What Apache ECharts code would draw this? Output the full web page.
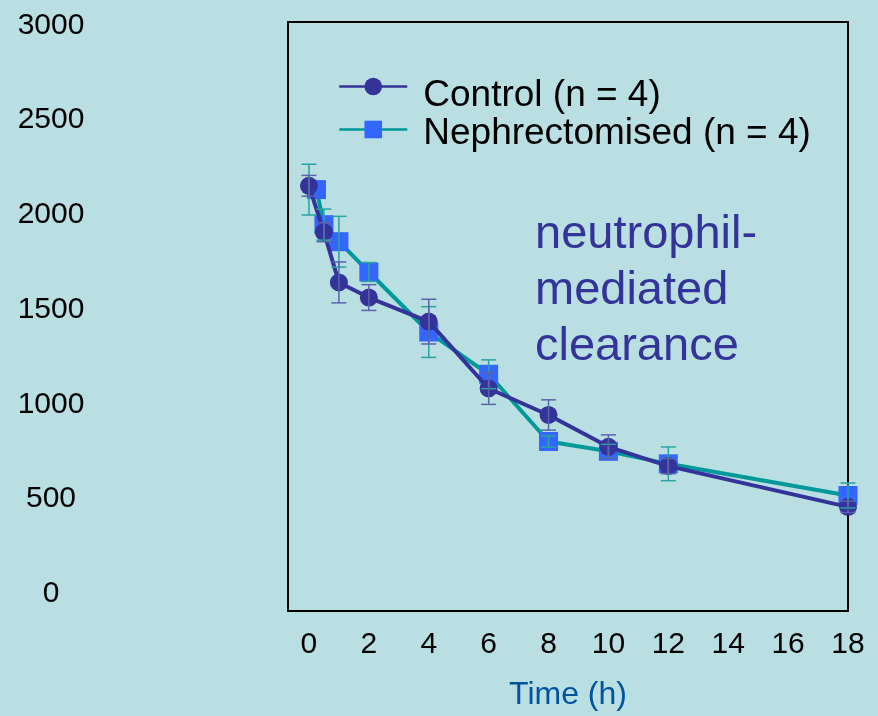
<!DOCTYPE html>
<html><head><meta charset="utf-8">
<script src="https://cdn.jsdelivr.net/npm/echarts@6/dist/echarts.min.js"></script>
<style>html,body{margin:0;padding:0;background:#b9dfe2}#c{width:878px;height:716px}</style>
</head><body><div id="c"></div>
<script>
const ctrlTime = [0, 0.5, 1, 2, 4, 6, 8, 10, 12, 18];
const ctrlMean = [2135, 1890, 1625, 1545, 1418, 1065, 925, 757, 655, 440];
const ctrlErr  = [55, 50, 108, 68, 118, 84, 80, 63, 40, 30];
const nephTime = [0.25, 0.5, 1, 2, 4, 6, 8, 10, 12, 18];
const nephMean = [2115, 1930, 1840, 1680, 1363, 1140, 785, 733, 667, 500];
const nephErr  = [134, 82, 134, 50, 134, 76, 30, 37, 89, 66];
const nephErrTime = [0, 0.5, 1, 2, 4, 6, 8, 10, 12, 18];
const yTicks = [0, 500, 1000, 1500, 2000, 2500, 3000];
const xTicks = [0, 2, 4, 6, 8, 10, 12, 14, 16, 18];

const FONT = 'Liberation Sans, Arial, sans-serif';
const ctrlData = ctrlTime.map((t, i) => [t, ctrlMean[i]]);
const nephData = nephTime.map((t, i) => [t, nephMean[i]]);
const ctrlErrData = ctrlTime.map((t, i) => [t, ctrlMean[i] - ctrlErr[i], ctrlMean[i] + ctrlErr[i]]);
const nephErrData = nephErrTime.map((t, i) => [t, nephMean[i] - nephErr[i], nephMean[i] + nephErr[i]]);

function errRender(color) {
  return function (params, api) {
    const x = api.value(0), lo = api.value(1), hi = api.value(2);
    const p1 = api.coord([x, hi]), p2 = api.coord([x, lo]);
    const w = 7.5;
    const st = { stroke: color, lineWidth: 1.5 };
    return { type: 'group', children: [
      { type: 'line', shape: { x1: p1[0], y1: p1[1], x2: p2[0], y2: p2[1] }, style: st },
      { type: 'line', shape: { x1: p1[0] - w, y1: p1[1], x2: p1[0] + w, y2: p1[1] }, style: st },
      { type: 'line', shape: { x1: p2[0] - w, y1: p2[1], x2: p2[0] + w, y2: p2[1] }, style: st }
    ]};
  };
}

function legendBox(name, top, padTop) {
  return {
    data: [name], orient: 'vertical', left: 338, top: top, padding: 0,
    itemWidth: 68, itemHeight: 22,
    lineStyle: { width: 2.5 },
    formatter: '{t|{name}}',
    textStyle: {
      fontSize: 37, color: '#000', fontFamily: FONT, padding: [0, 0, 0, 11],
      rich: { t: { fontSize: 37, color: '#000', fontFamily: FONT, lineHeight: 36, padding: [padTop, 0, 0, 0] } }
    }
  };
}

const chart = echarts.init(document.getElementById('c'));
chart.setOption({
  animation: false,
  backgroundColor: '#b9dfe2',
  grid: { left: 288, right: 30, top: 22, bottom: 103, show: true, borderColor: '#000', borderWidth: 2, backgroundColor: 'transparent' },
  xAxis: {
    type: 'value', min: -0.7, max: 18,
    axisLine: { show: false }, axisTick: { show: false }, splitLine: { show: false },
    axisLabel: { customValues: xTicks, fontSize: 30, color: '#000', margin: 19, fontFamily: FONT },
    name: 'Time (h)', nameLocation: 'middle', nameGap: 68,
    nameTextStyle: { color: '#00539f', fontSize: 32, fontFamily: FONT }
  },
  yAxis: {
    type: 'value', min: -110, max: 3000,
    axisLine: { show: false }, axisTick: { show: false }, splitLine: { show: false },
    axisLabel: {
      customValues: yTicks, formatter: v => '{a|' + v + '}', color: '#000', margin: 237, align: 'center',
      rich: { a: { fontSize: 30, color: '#000', fontFamily: FONT, lineHeight: 30, padding: [7, 0, 0, 0] } }
    }
  },
  legend: [
    legendBox('Control (n = 4)', 59, 18),
    legendBox('Nephrectomised (n = 4)', 107, 8)
  ],
  graphic: [{
    type: 'text', left: 535, top: 207, z: 100,
    style: { text: 'neutrophil-\nmediated\nclearance', fontSize: 47, lineHeight: 56, fill: '#333399', fontFamily: FONT }
  }],
  series: [
    {
      name: 'Nephrectomised (n = 4)', type: 'line', data: nephData, z: 2,
      symbol: 'rect', symbolSize: 19,
      lineStyle: { color: '#009999', width: 4 },
      itemStyle: { color: '#3366ff' }
    },
    {
      name: 'Control (n = 4)', type: 'line', data: ctrlData, z: 3,
      symbol: 'circle', symbolSize: 18,
      lineStyle: { color: '#333399', width: 4 },
      itemStyle: { color: '#333399' }
    },
    {
      name: 'nephErr', type: 'custom', data: nephErrData, z: 4,
      encode: { x: 0, y: [1, 2] }, renderItem: errRender('#2aa3a3')
    },
    {
      name: 'ctrlErr', type: 'custom', data: ctrlErrData, z: 4,
      encode: { x: 0, y: [1, 2] }, renderItem: errRender('#5a63aa')
    }
  ]
});
</script></body></html>
